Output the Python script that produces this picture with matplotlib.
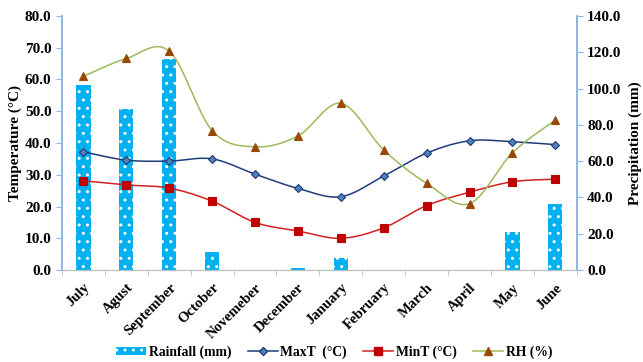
import numpy as np
import matplotlib.pyplot as plt
from matplotlib.lines import Line2D

plt.rcParams['font.family'] = ['Liberation Serif', 'DejaVu Serif']
plt.rcParams['font.weight'] = 'bold'
plt.rcParams['axes.labelweight'] = 'bold'
plt.rcParams['hatch.linewidth'] = 1.0

months = ['July', 'Agust', 'September', 'October', 'Novemeber', 'December',
          'January', 'February', 'March', 'April', 'May', 'June']
rainfall = [102.0, 88.8, 116.3, 9.8, 0.0, 1.0, 6.4, 0.0, 0.0, 0.0, 20.8, 36.2]
max_t = [37.2, 34.6, 34.3, 35.0, 30.2, 25.7, 23.1, 29.6, 36.8, 40.7, 40.4, 39.5]
min_t = [28.1, 26.8, 25.8, 21.7, 15.0, 12.3, 10.0, 13.3, 20.3, 24.5, 27.8, 28.6]
rh = [61.0, 66.6, 68.9, 43.9, 38.8, 42.2, 52.5, 37.8, 27.3, 20.9, 36.9, 47.2]


def smooth(y, n=20):
    # Catmull-Rom spline through the points, like Excel's smoothed line
    y = np.asarray(y, float)
    x = np.arange(len(y), dtype=float)
    px = np.concatenate([[x[0]], x, [x[-1]]])
    py = np.concatenate([[y[0]], y, [y[-1]]])
    xs, ys = [], []
    t = np.linspace(0, 1, n, endpoint=False)
    for i in range(1, len(px) - 2):
        for p, out in ((px, xs), (py, ys)):
            p0, p1, p2, p3 = p[i - 1], p[i], p[i + 1], p[i + 2]
            out.extend(0.5 * ((2 * p1) + (-p0 + p2) * t
                              + (2 * p0 - 5 * p1 + 4 * p2 - p3) * t ** 2
                              + (-p0 + 3 * p1 - 3 * p2 + p3) * t ** 3))
    xs.append(x[-1])
    ys.append(y[-1])
    return np.array(xs), np.array(ys)


fig = plt.figure(figsize=(6.43, 3.62), dpi=100)
ax = fig.add_axes([0.0964, 0.254, 0.8006, 0.702])
ax2 = ax.twinx()
ax.set_zorder(2)
ax.patch.set_visible(False)

x = np.arange(len(months))
ax2.bar(x, rainfall, width=0.33, color='#00B0F0', edgecolor='white',
        hatch='..', linewidth=0, label='Rainfall (mm)')

spine_blue = '#8EB4E3'
series = [
    (max_t, '#1F3C7A', 'D', '#4F81BD', '#1F3C7A', 4.5, 'MaxT  (°C)'),
    (min_t, '#D42020', 's', '#C00000', '#C00000', 5.5, 'MinT (°C)'),
    (rh, '#9BBB59', '^', '#984807', '#984807', 6, 'RH (%)'),
]
for vals, lc, mk, mfc, mec, ms, lab in series:
    sx, sy = smooth(vals)
    ax.plot(sx, sy, color=lc, lw=1.1)
    ax.plot(x, vals, ls='none', marker=mk, ms=ms, mfc=mfc, mec=mec, mew=0.8)

ax.set_xlim(-0.5, len(months) - 0.5)
ax.set_ylim(0, 80)
ax.set_yticks(np.arange(0, 81, 10))
ax.set_yticklabels([f'{v:.1f}' for v in np.arange(0, 81, 10)])
ax2.set_ylim(0, 140)
ax2.set_yticks(np.arange(0, 141, 20))
ax2.set_yticklabels([f'{v:.1f}' for v in np.arange(0, 141, 20)])

ax.set_xticks(x)
ax.set_xticklabels(months, rotation=45, ha='right', rotation_mode='anchor')
ax.set_xticks(np.arange(-0.5, len(months)), minor=True)
ax.tick_params(axis='x', which='major', length=0, pad=8, labelsize=10.5)
ax.tick_params(axis='x', which='minor', length=4, color='#BFBFBF')
ax.tick_params(axis='y', length=4, color=spine_blue, labelsize=11)
ax2.tick_params(axis='y', length=4, color=spine_blue, labelsize=11)

for a in (ax, ax2):
    a.spines['top'].set_visible(False)
    a.spines['left'].set_color(spine_blue)
    a.spines['right'].set_color(spine_blue)
    a.spines['bottom'].set_color('#BFBFBF')
    a.spines['left'].set_linewidth(1.2)
    a.spines['right'].set_linewidth(1.2)

ax.set_ylabel('Temperature (°C)', fontsize=11, labelpad=2)
ax2.set_ylabel('Precipitation (mm)', fontsize=11, labelpad=5)

handles = [ax2.patches[0]]
for vals, lc, mk, mfc, mec, ms, lab in series:
    handles.append(Line2D([], [], color=lc, lw=1.1, marker=mk, ms=ms,
                          mfc=mfc, mec=mec))
labels = ['Rainfall (mm)'] + [s[-1] for s in series]
fig.legend(handles, labels, loc='lower center', ncol=4, frameon=False,
           bbox_to_anchor=(0.52, -0.025), fontsize=9.8, handlelength=2.2,
           handleheight=0.5, columnspacing=1.2, handletextpad=0.2)

fig.savefig('out.png', dpi=100)
